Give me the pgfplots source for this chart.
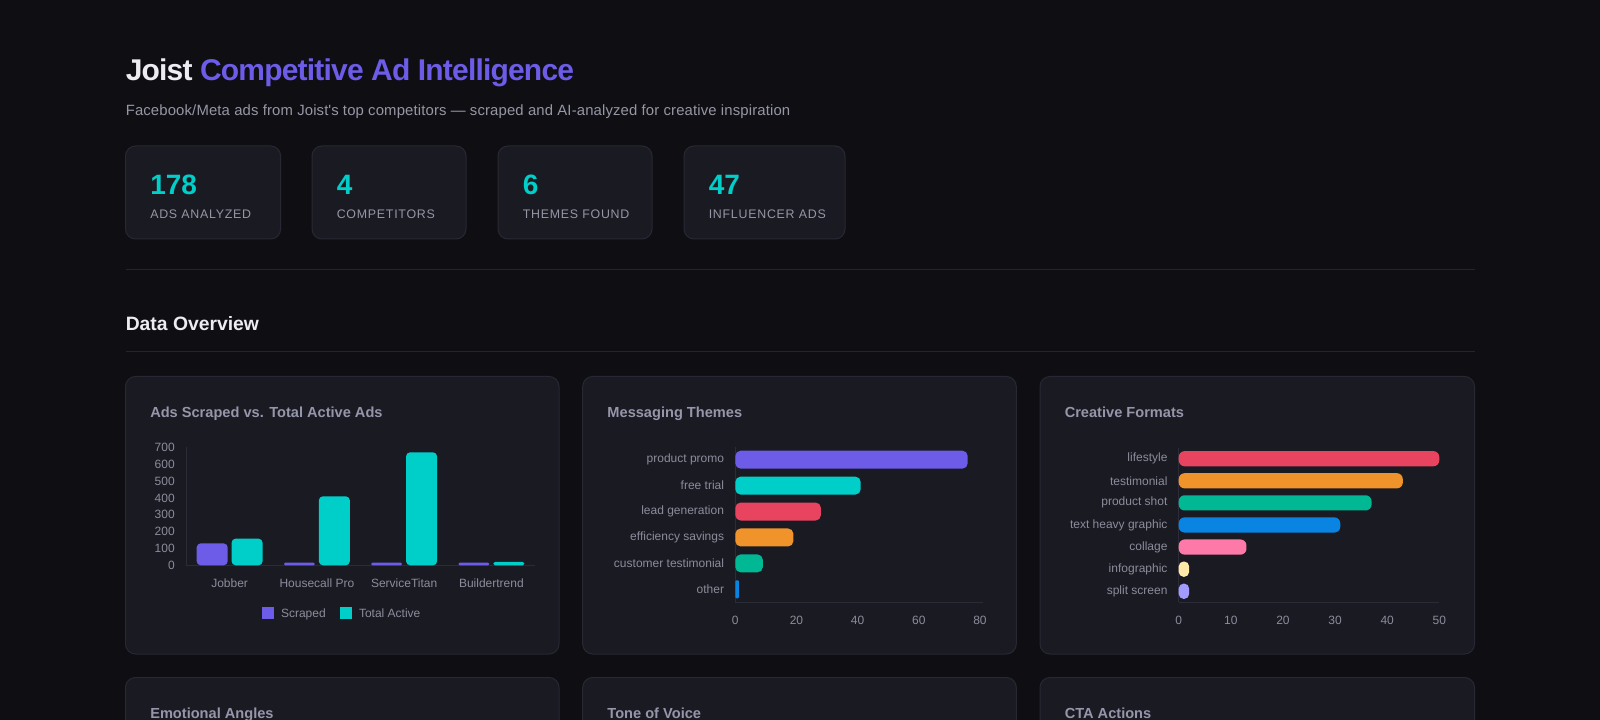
\documentclass[border=0pt]{standalone}
\usepackage{pgfplots}
\pgfplotsset{compat=1.18}
\usepackage{fontspec}
\setmainfont{Liberation Sans}
\definecolor{bg}{RGB}{14,14,19}
\definecolor{card}{RGB}{26,26,35}
\definecolor{cardborder}{RGB}{40,40,52}
\definecolor{divider}{RGB}{36,36,46}
\definecolor{titlewhite}{RGB}{236,236,242}
\definecolor{cpurple}{RGB}{108,92,231}
\definecolor{cteal}{RGB}{0,206,201}
\definecolor{cred}{RGB}{232,67,95}
\definecolor{corange}{RGB}{240,147,43}
\definecolor{cgreen}{RGB}{0,184,148}
\definecolor{cblue}{RGB}{9,132,227}
\definecolor{cpink}{RGB}{253,121,168}
\definecolor{cyellow}{RGB}{255,234,167}
\definecolor{clav}{RGB}{162,155,254}
\definecolor{subtext}{RGB}{150,150,165}
\definecolor{cardtitle}{RGB}{150,150,170}
\definecolor{ticktext}{RGB}{140,140,155}
\definecolor{axisline}{RGB}{44,44,56}
\newcommand{\fs}[1]{\fontsize{#1}{#1}\selectfont}
\pgfplotsset{
  dashbase/.style={
    scale only axis,
    axis lines*=left,
    axis line style={draw=axisline, line width=0.75pt, -},
    major tick length=0pt,
    tick style={draw=none},
    tick label style={font=\fs{9}, text=ticktext, inner sep=0pt},
    /pgf/number format/assume math mode=true,
    yticklabel style={anchor=east, xshift=-8.25pt},
    xticklabel style={anchor=base, yshift=-16.4pt},
    clip=false,
  },
}
\begin{document}
\begin{tikzpicture}[x=0.75pt,y=-0.75pt]
\useasboundingbox (0,0) rectangle (1600,720);
\clip (0,0) rectangle (1600,720);
\fill[bg] (-5,-5) rectangle (1605,725);
% header
\node[anchor=base west, inner sep=0pt, font=\fs{22.5}\bfseries\addfontfeature{LetterSpace=-2.7}] at (125.5,81) {\textcolor{titlewhite}{Joist} \textcolor{cpurple}{Competitive Ad Intelligence}};
\node[anchor=base west, inner sep=0pt, font=\fs{11.15}\addfontfeature{LetterSpace=1}, text=subtext] at (125.5,116) {Facebook/Meta ads from Joist\textquotesingle s top competitors — scraped and AI-analyzed for creative inspiration};
% stat cards
\foreach \xa/\xb/\num/\lab in {125.5/280.6/178/ADS ANALYZED, 312/466/4/COMPETITORS, 498/652/6/THEMES FOUND, 684/845/47/INFLUENCER ADS} {
  \draw[cardborder, fill=card, line width=0.75pt, rounded corners=7.5pt] (\xa,146) rectangle (\xb,239);
  \node[anchor=base west, inner sep=0pt, font=\fs{21}\bfseries, text=cteal] at (\xa+24.5,195) {\num};
  \node[anchor=base west, inner sep=0pt, font=\fs{9.3}, text=subtext] at (\xa+24.5,219) {\addfontfeature{LetterSpace=6}\lab};
}
\draw[divider, line width=0.75pt] (125.5,270) -- (1474.5,270);
\node[anchor=base west, inner sep=0pt, font=\fs{14.5}\bfseries, text=titlewhite] at (125.5,331) {Data Overview};
\draw[divider, line width=0.75pt] (125.5,352) -- (1474.5,352);
% chart cards
\foreach \xa/\xb/\ta/\tb in {125.5/559/Ads Scraped vs. Total Active Ads/Emotional Angles, 582.7/1016.3/Messaging Themes/Tone of Voice, 1040/1474.5/Creative Formats/CTA Actions} {
  \draw[cardborder, fill=card, line width=0.75pt, rounded corners=7.5pt] (\xa,376.5) rectangle (\xb,654);
  \draw[cardborder, fill=card, line width=0.75pt, rounded corners=7.5pt] (\xa,677.5) rectangle (\xb,790);
  \node[anchor=base west, inner sep=0pt, font=\fs{10.95}\bfseries, text=cardtitle] at (\xa+24.5,417.7) {\ta};
  \node[anchor=base west, inner sep=0pt, font=\fs{10.95}\bfseries, text=cardtitle] at (\xa+24.5,718.7) {\tb};
}
\coordinate (a1) at (186,565.3);
\coordinate (a2) at (735.3,602.3);
\coordinate (a3) at (1178.7,602.3);
\begin{scope}[x=1cm,y=1cm]
% chart 1
\begin{axis}[dashbase, at={(a1)}, anchor=south west,
  width=261.75pt, height=88.5pt,
  xmin=-0.5, xmax=3.5, ymin=0, ymax=700,
  ytick={0,100,...,700}, xtick={0,1,2,3},
  xticklabels={Jobber,Housecall Pro,ServiceTitan,Buildertrend},
  ybar, bar width=0.355,
  legend style={at={(0.449,-0.415)}, anchor=center, draw=none, fill=none, text=ticktext, font=\fs{9}, legend columns=2, /tikz/every even column/.append style={column sep=9pt}},
]
\addplot[bar shift=-0.2, fill=cpurple, draw=none, rounded corners=3pt, legend image code/.code={\fill[cpurple, sharp corners] (-3pt,-3.4pt) rectangle (6pt,5.6pt); \path (9pt,0pt);}] coordinates {(0,130)};
\addplot[bar shift=0.2, fill=cteal, draw=none, rounded corners=3pt, legend image code/.code={\fill[cteal, sharp corners] (-3pt,-3.4pt) rectangle (6pt,5.6pt); \path (9pt,0pt);}] coordinates {(0,158) (1,409) (2,670)};
\addplot[forget plot, bar shift=-0.2, fill=cpurple, draw=none, rounded corners=1pt] coordinates {(1,16) (2,16) (3,16)};
\addplot[forget plot, bar shift=0.2, fill=cteal, draw=none, rounded corners=1.2pt] coordinates {(3,20)};
\legend{Scraped, Total Active}
\end{axis}
% chart 2
\begin{axis}[dashbase, at={(a2)}, anchor=south west,
  width=185.55pt, height=116.7pt,
  xmin=0, xmax=80.9, ymin=-0.5, ymax=5.5,
  xtick={0,20,...,80}, ytick={0,...,5},
  yticklabels={other, customer testimonial, efficiency savings, lead generation, free trial, product promo},
  xbar, bar width=0.694, bar shift=0pt]
\addplot[bar shift=0pt, fill=cpurple, draw=none, rounded corners=4pt] coordinates {(76,5)};
\addplot[bar shift=0pt, fill=cteal, draw=none, rounded corners=4pt] coordinates {(41,4)};
\addplot[bar shift=0pt, fill=cred, draw=none, rounded corners=4pt] coordinates {(28,3)};
\addplot[bar shift=0pt, fill=corange, draw=none, rounded corners=4pt] coordinates {(19,2)};
\addplot[bar shift=0pt, fill=cgreen, draw=none, rounded corners=4pt] coordinates {(9,1)};
\addplot[bar shift=0pt, fill=cblue, draw=none, rounded corners=0.8pt] coordinates {(1.2,0)};
\end{axis}
% chart 3
\begin{axis}[dashbase, at={(a3)}, anchor=south west,
  width=195.45pt, height=116pt,
  xmin=0, xmax=50, ymin=-0.5, ymax=6.5,
  xtick={0,10,...,50}, ytick={0,...,6},
  yticklabels={split screen, infographic, collage, text heavy graphic, product shot, testimonial, lifestyle},
  xbar, bar width=0.69, bar shift=0pt]
\addplot[bar shift=0pt, fill=cred, draw=none, rounded corners=4.5pt] coordinates {(50,6)};
\addplot[bar shift=0pt, fill=corange, draw=none, rounded corners=4.5pt] coordinates {(43,5)};
\addplot[bar shift=0pt, fill=cgreen, draw=none, rounded corners=4.5pt] coordinates {(37,4)};
\addplot[bar shift=0pt, fill=cblue, draw=none, rounded corners=4.5pt] coordinates {(31,3)};
\addplot[bar shift=0pt, fill=cpink, draw=none, rounded corners=4.5pt] coordinates {(13,2)};
\addplot[bar shift=0pt, fill=cyellow, draw=none, rounded corners=3.6pt] coordinates {(2,1)};
\addplot[bar shift=0pt, fill=clav, draw=none, rounded corners=3.6pt] coordinates {(2,0)};
\end{axis}
\end{scope}
\end{tikzpicture}
\end{document}
